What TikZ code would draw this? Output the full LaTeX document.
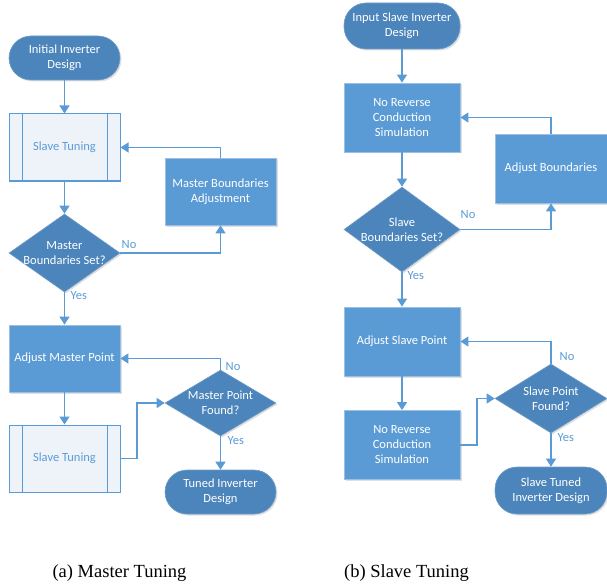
\documentclass[tikz,border=0pt]{standalone}
\usepackage{fontspec}
\setmainfont{Liberation Serif}
\newfontfamily\vfont{Carlito}
\usetikzlibrary{arrows.meta,shapes.geometric,shadows}
\definecolor{dblue}{HTML}{4C85BB}
\definecolor{lblue}{HTML}{5B9BD5}
\definecolor{pfill}{HTML}{EEF3FA}
\definecolor{bordl}{HTML}{9DBFE3}
\tikzset{
  every node/.style={font=\vfont\fontsize{12.5}{15}\selectfont},
  shad/.style={drop shadow={opacity=0.25,shadow xshift=1.5pt,shadow yshift=-1.5pt}},
  term/.style={rectangle,rounded corners=22pt,fill=dblue,draw=dblue!80!white,line width=0.6pt,text=white,align=center,inner sep=0pt,shad},
  boxn/.style={rectangle,fill=lblue,draw=bordl,line width=0.8pt,text=white,align=center,inner sep=0pt,shad},
  pproc/.style={rectangle,fill=pfill,draw=lblue,line width=1pt,text=lblue,align=center,inner sep=0pt,
    path picture={\draw[lblue,line width=1pt]
      ([xshift=13pt]path picture bounding box.north west) -- ([xshift=13pt]path picture bounding box.south west)
      ([xshift=-13pt]path picture bounding box.north east) -- ([xshift=-13pt]path picture bounding box.south east);}},
  dia/.style={diamond,fill=dblue,draw=dblue!80!white,line width=0.6pt,inner sep=0pt,shad},
  dtext/.style={text=white,align=center,inner sep=0pt},
  arr/.style={draw=lblue,line width=1.3pt,-{Triangle[length=8pt,width=10pt]}},
  lbl/.style={text=lblue,anchor=west,inner sep=0pt},
  captext/.style={font=\fontsize{18.5}{22}\selectfont,text=black}
}
\begin{document}
\begin{tikzpicture}[x=1pt,y=-1pt]
\useasboundingbox (0,0) rectangle (607,588);
% ---- (a) Master Tuning ----
\node[term,minimum width=111pt,minimum height=44pt] (t1) at (64.5,58) {Initial Inverter\\Design};
\node[pproc,minimum width=111pt,minimum height=67pt] (st1) at (64.5,147.5) {Slave Tuning};
\node[dia,minimum width=111pt,minimum height=78pt,label={[dtext]center:Master\\Boundaries Set?}] (d1) at (64.5,253) {};
\node[boxn,minimum width=111pt,minimum height=67pt] (mba) at (220.5,191.5) {Master Boundaries\\Adjustment};
\node[boxn,minimum width=111pt,minimum height=67pt] (amp) at (64.5,358.5) {Adjust Master Point};
\node[pproc,minimum width=111pt,minimum height=67pt] (st2) at (64.5,458.5) {Slave Tuning};
\node[dia,minimum width=111pt,minimum height=66pt,label={[dtext]center:Master Point\\Found?}] (d2) at (220.5,403) {};
\node[term,minimum width=111pt,minimum height=44pt] (t2) at (220.5,492) {Tuned Inverter\\Design};
\coordinate (k1) at (137,458.5);

\draw[arr] (t1) -- (st1);
\draw[arr] (st1) -- (d1);
\draw[arr] (d1.east) -| (mba.south);
\draw[arr] (mba.north) |- (st1.east);
\draw[arr] (d1.south) -- (amp.north);
\draw[arr] (amp) -- (st2);
\draw[arr] (st2.east) -- (k1) |- (d2.west);
\draw[arr] (d2.north) |- (amp.east);
\draw[arr] (d2.south) -- (t2.north);
\node[lbl] (n1) at (121.5,245) {No};
\node[lbl] (y1) at (70.5,296) {Yes};
\node[lbl] (n2) at (225.5,367) {No};
\node[lbl] (y2) at (227.5,441) {Yes};

% ---- (b) Slave Tuning ----
\node[term,minimum width=116pt,minimum height=46pt] (t3) at (402,26) {Input Slave Inverter\\Design};
\node[boxn,minimum width=116pt,minimum height=69pt] (nr1) at (402,117.5) {No Reverse\\Conduction\\Simulation};
\node[dia,minimum width=116pt,minimum height=85pt,label={[dtext]center:Slave\\Boundaries Set?}] (d3) at (402,229.5) {};
\node[boxn,minimum width=112pt,minimum height=69pt] (ab) at (551,168.5) {Adjust Boundaries};
\node[boxn,minimum width=116pt,minimum height=69pt] (asp) at (402,341.5) {Adjust Slave Point};
\node[boxn,minimum width=116pt,minimum height=69pt] (nr2) at (402,445) {No Reverse\\Conduction\\Simulation};
\node[dia,minimum width=112pt,minimum height=69pt,label={[dtext]center:Slave Point\\Found?}] (d4) at (551,398.5) {};
\node[term,minimum width=112pt,minimum height=47pt] (t4) at (551,490.5) {Slave Tuned\\Inverter Design};
\coordinate (k2) at (477,445);

\draw[arr] (t3) -- (nr1);
\draw[arr] (nr1) -- (d3);
\draw[arr] (d3.east) -| (ab.south);
\draw[arr] (ab.north) |- (nr1.east);
\draw[arr] (d3.south) -- (asp.north);
\draw[arr] (asp) -- (nr2);
\draw[arr] (nr2.east) -- (k2) |- (d4.west);
\draw[arr] (d4.north) |- (asp.east);
\draw[arr] (d4.south) -- (t4.north);
\node[lbl] (n3) at (460.5,215) {No};
\node[lbl] (y3) at (407.5,276) {Yes};
\node[lbl] (n4) at (559.5,357) {No};
\node[lbl] (y4) at (557.5,438) {Yes};

% captions
\node[captext] (ca) at (119.5,573) {(a) Master Tuning};
\node[captext] (cb) at (406.5,573) {(b) Slave Tuning};
\end{tikzpicture}
\end{document}
